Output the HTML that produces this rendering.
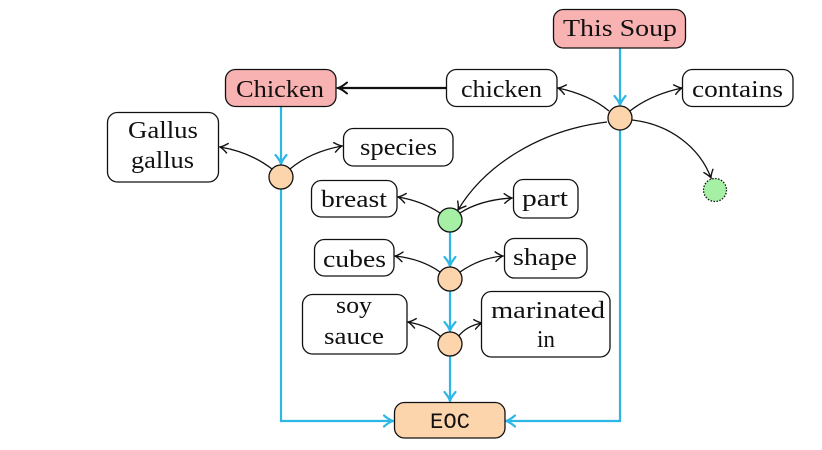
<!DOCTYPE html>
<html><head><meta charset="utf-8"><style>
html,body{margin:0;padding:0;background:#fff;}
svg{display:block;}
text{font-family:"Liberation Serif",serif;font-size:24px;fill:#111;}
</style></head><body>
<svg width="822" height="450" viewBox="0 0 822 450" xmlns="http://www.w3.org/2000/svg">
<defs>
<marker id="ak" markerUnits="userSpaceOnUse" markerWidth="20" markerHeight="20" refX="0" refY="0" viewBox="-10 -10 20 20" orient="auto" overflow="visible">
<path d="M-7.5,-4.8 Q-3,-1 0,0 Q-3,1 -7.5,4.8" fill="none" stroke="#111" stroke-width="1.4" stroke-linecap="round"/>
</marker>
<marker id="akb" markerUnits="userSpaceOnUse" markerWidth="20" markerHeight="20" refX="0" refY="0" viewBox="-10 -10 20 20" orient="auto" overflow="visible">
<path d="M-9,-5.5 Q-4,-1.2 0,0 Q-4,1.2 -9,5.5" fill="none" stroke="#111" stroke-width="2" stroke-linecap="round"/>
</marker>
<marker id="ab" markerUnits="userSpaceOnUse" markerWidth="20" markerHeight="20" refX="0" refY="0" viewBox="-10 -10 20 20" orient="auto" overflow="visible">
<path d="M-9,-5.5 Q-4,-1.2 0,0 Q-4,1.2 -9,5.5" fill="none" stroke="#2db7e6" stroke-width="2.2" stroke-linecap="round"/>
</marker>
</defs>

<!-- blue connectors -->
<g fill="none" stroke="#2db7e6" stroke-width="2.2">
<path d="M620,48 L620,105" marker-end="url(#ab)"/>
<path d="M281,107 L281,164" marker-end="url(#ab)"/>
<path d="M450,232 L450,266" marker-end="url(#ab)"/>
<path d="M450,291 L450,331" marker-end="url(#ab)"/>
<path d="M450,356 L450,401" marker-end="url(#ab)"/>
<path d="M281,189 L281,421 L393,421" marker-end="url(#ab)"/>
<path d="M620,130 L620,421 L506,421" marker-end="url(#ab)"/>
</g>

<!-- black connectors -->
<g fill="none" stroke="#111" stroke-width="1.3">
<path d="M446,88 L338,88" stroke-width="2.3" marker-end="url(#akb)"/>
<path d="M272,169 Q250,152 220,147" marker-end="url(#ak)"/>
<path d="M290,169 Q310,152 342,146" marker-end="url(#ak)"/>
<path d="M609,111 Q590,95 558,88" marker-end="url(#ak)"/>
<path d="M630,111 Q650,95 682,88" marker-end="url(#ak)"/>
<path d="M632,120 C670,124 700,148 711,178" marker-end="url(#ak)"/>
<path d="M607,122 C540,130 485,165 458,210" marker-end="url(#ak)"/>
<path d="M440,213 Q422,201 398,197" marker-end="url(#ak)"/>
<path d="M460,213 Q480,200 512,198" marker-end="url(#ak)"/>
<path d="M440,272 Q422,259 395,256" marker-end="url(#ak)"/>
<path d="M460,272 Q480,258 503,256" marker-end="url(#ak)"/>
<path d="M441,337 Q430,326 408,322" marker-end="url(#ak)"/>
<path d="M458,337 Q466,326 482,323" marker-end="url(#ak)"/>
</g>

<!-- boxes -->
<g stroke="#111" stroke-width="1.3">
<rect x="553.5" y="9.5" width="132" height="38.5" rx="10" fill="#f9b2b2"/>
<rect x="225.5" y="69.5" width="110.5" height="37" rx="10" fill="#f9b2b2"/>
<rect x="446.5" y="69.5" width="110.5" height="37" rx="10" fill="#fff"/>
<rect x="682.5" y="69.5" width="110.5" height="37" rx="10" fill="#fff"/>
<rect x="107.5" y="112.5" width="111" height="69.5" rx="10" fill="#fff"/>
<rect x="343.5" y="128.5" width="109.5" height="37.5" rx="10" fill="#fff"/>
<rect x="311.5" y="180.5" width="85.5" height="36.5" rx="10" fill="#fff"/>
<rect x="513.5" y="179.5" width="64.5" height="38.5" rx="10" fill="#fff"/>
<rect x="314.5" y="239.5" width="79.5" height="36.5" rx="10" fill="#fff"/>
<rect x="504.5" y="238.5" width="82.5" height="39.5" rx="10" fill="#fff"/>
<rect x="302.5" y="294.5" width="104.5" height="59.5" rx="10" fill="#fff"/>
<rect x="481.5" y="291.5" width="128.5" height="65.5" rx="10" fill="#fff"/>
<rect x="394.5" y="402.5" width="110.5" height="35.5" rx="10" fill="#fdd5ad"/>
</g>

<!-- nodes -->
<g stroke="#111" stroke-width="1.3">
<circle cx="620" cy="118" r="12" fill="#fdd5ad"/>
<circle cx="281" cy="177" r="12" fill="#fdd5ad"/>
<circle cx="450" cy="220" r="12" fill="#a6f0a6"/>
<circle cx="450" cy="279" r="12" fill="#fdd5ad"/>
<circle cx="450" cy="344" r="12" fill="#fdd5ad"/>
<circle cx="715" cy="190" r="11.5" fill="#a6f0a6" stroke-dasharray="1.5 1.5"/>
</g>

<!-- labels -->
<text x="563" y="36" textLength="114" lengthAdjust="spacingAndGlyphs">This Soup</text>
<text x="236" y="97" textLength="88" lengthAdjust="spacingAndGlyphs">Chicken</text>
<text x="461" y="97" textLength="81" lengthAdjust="spacingAndGlyphs">chicken</text>
<text x="692" y="97" textLength="91" lengthAdjust="spacingAndGlyphs">contains</text>
<text x="128" y="138" textLength="70" lengthAdjust="spacingAndGlyphs">Gallus</text>
<text x="131" y="168" textLength="63" lengthAdjust="spacingAndGlyphs">gallus</text>
<text x="360" y="155" textLength="77" lengthAdjust="spacingAndGlyphs">species</text>
<text x="321" y="207" textLength="66" lengthAdjust="spacingAndGlyphs">breast</text>
<text x="522" y="206" textLength="46" lengthAdjust="spacingAndGlyphs">part</text>
<text x="323" y="267" textLength="63" lengthAdjust="spacingAndGlyphs">cubes</text>
<text x="513" y="265" textLength="64" lengthAdjust="spacingAndGlyphs">shape</text>
<text x="336" y="313" textLength="36" lengthAdjust="spacingAndGlyphs">soy</text>
<text x="324" y="344" textLength="60" lengthAdjust="spacingAndGlyphs">sauce</text>
<text x="491" y="318" textLength="114" lengthAdjust="spacingAndGlyphs">marinated</text>
<text x="537" y="347" textLength="18" lengthAdjust="spacingAndGlyphs">in</text>
<text x="430" y="428" textLength="40" lengthAdjust="spacingAndGlyphs" style="font-family:'Liberation Mono',monospace;font-size:22px;">EOC</text>
</svg>
</body></html>
